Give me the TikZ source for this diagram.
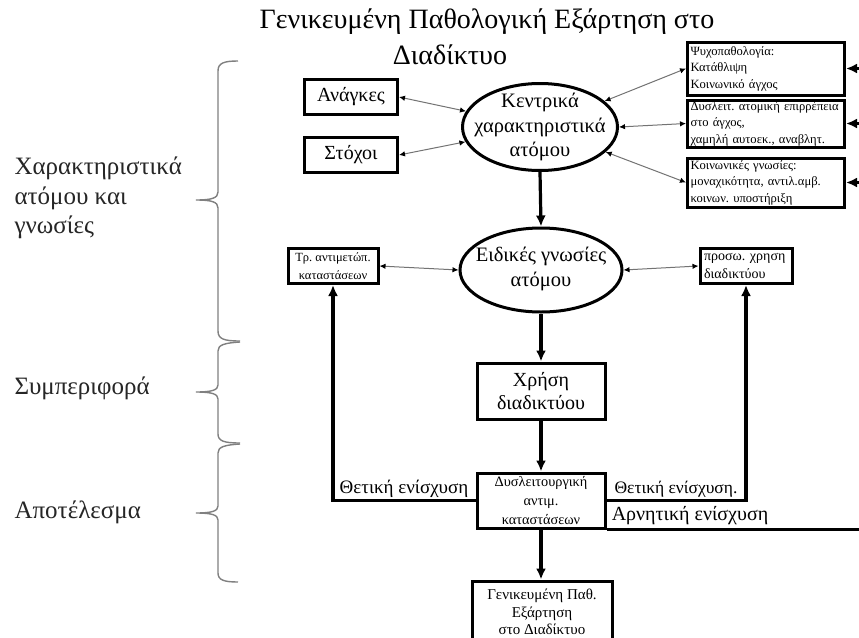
\documentclass[tikz,border=0pt]{standalone}
\usepackage{fontspec}
\setmainfont{Liberation Serif}
\frenchspacing
\usetikzlibrary{shapes.geometric,arrows.meta}
\begin{document}
\begin{tikzpicture}[x=1pt,y=-1pt,
  box/.style={draw,line width=3pt,align=center,inner sep=2pt},
  rbox/.style={draw,line width=3pt,align=left,text width=151pt,inner xsep=3pt,inner ysep=1pt,font=\fontsize{12.6}{16.5}\selectfont\frenchspacing},
  oval/.style={draw,ellipse,line width=3pt,inner sep=0pt},
  ovtext/.style={font=\fontsize{20.5}{24.5}\selectfont,align=center},
  flow/.style={line width=3.2pt,-{Latex[length=11pt,width=10pt]}},
  fline/.style={line width=3.2pt},
  link/.style={draw=black!55,line width=1pt,{Latex[length=6pt,width=5.5pt,color=black]}-{Latex[length=6pt,width=5.5pt,color=black]}},
  side/.style={font=\fontsize{25}{29.5}\selectfont,align=left,anchor=west,text=black!85},
  brc/.style={draw=black!50,line width=1.4pt},
  lbl/.style={font=\fontsize{19}{20}\selectfont,inner sep=0pt}
]
\useasboundingbox (0,0) rectangle (859,637);
\fill[white] (0,0) rectangle (859,637);
\clip (0,0) rectangle (859,637);

% title
\node[font=\fontsize{28}{32}\selectfont] (ti1) at (487,22) {Γενικευμένη Παθολογική Εξάρτηση στο};
\node[font=\fontsize{28}{32}\selectfont] (ti2) at (450,55) {Διαδίκτυο};

% side labels
\node[side] (s1) at (11,198) {Χαρακτηριστικά\\ατόμου και\\γνωσίες};
\node[side] (s2) at (11,388) {Συμπεριφορά};
\node[side] (s3) at (11,512) {Αποτέλεσμα};

% braces
\draw[brc] (238,61) .. controls (224,61) and (218,63) .. (218,71) -- (218,192)
  .. controls (218,198) and (212,200) .. (196,200)
  .. controls (212,200) and (218,202) .. (218,208) -- (218,331)
  .. controls (218,339) and (224,341) .. (240,341);
\draw[brc] (240,342) .. controls (224,343) and (218,345) .. (218,351) -- (218,385)
  .. controls (218,390) and (212,392) .. (196,392)
  .. controls (212,392) and (218,394) .. (218,399) -- (218,434)
  .. controls (218,441) and (224,443) .. (240,443);
\draw[brc] (240,444) .. controls (224,445) and (218,447) .. (218,453) -- (218,506)
  .. controls (218,511) and (212,513) .. (196,513)
  .. controls (212,513) and (218,515) .. (218,520) -- (218,573)
  .. controls (218,580) and (224,582) .. (238,582);

% top row
\node[box,minimum width=93pt,minimum height=35pt,font=\fontsize{20}{24}\selectfont] (an) at (351,97) {Ανάγκες};
\node[box,minimum width=93pt,minimum height=35pt,font=\fontsize{20}{24}\selectfont] (st) at (351,155) {Στόχοι};
\node[oval,minimum width=155pt,minimum height=87pt,
  label={[ovtext]center:Κεντρικά\\χαρακτηριστικά\\ατόμου}] (kc) at (540,127) {};

\node[rbox,minimum height=53pt] (b1) at (766,68.5) {Ψυχοπαθολογία:\\Κατάθλιψη\\Κοινωνικό άγχος};
\node[rbox,minimum height=47pt] (b2) at (766,123.5) {\mbox{Δυσλειτ. ατομική επιρρέπεια}\\στο άγχος,\\\mbox{χαμηλή αυτοεκ., αναβλητ.}};
\node[rbox,minimum height=49pt] (b3) at (766,182.5) {Κοινωνικές γνωσίες:\\\mbox{μοναχικότητα, αντιλ.αμβ.}\\κοινων. υποστήριξη};

% middle row
\node[oval,minimum width=162pt,minimum height=84pt,
  label={[ovtext,yshift=1pt]center:Ειδικές γνωσίες\\ατόμου}] (ei) at (541,270) {};
\node[box,minimum width=90pt,minimum height=35pt,font=\fontsize{12.5}{18}\selectfont\frenchspacing] (tr) at (333,266) {Τρ. αντιμετώπ.\\καταστάσεων};
\node[box,minimum width=92pt,minimum height=35pt,text width=84pt,align=left,inner xsep=4pt,font=\fontsize{14}{18}\selectfont\frenchspacing] (pr) at (746,266) {προσω. χρηση\\διαδικτύου};

\node[box,minimum width=128pt,minimum height=56pt,font=\fontsize{20}{22.5}\selectfont] (ch) at (541,391) {Χρήση\\διαδικτύου};
\node[box,minimum width=128pt,minimum height=55pt,font=\fontsize{14.3}{19}\selectfont] (dy) at (541,500.5) {Δυσλειτουργική\\αντιμ.\\καταστάσεων};
\node[box,minimum width=140pt,minimum height=62pt,font=\fontsize{15}{17.5}\selectfont\frenchspacing] (gp) at (542,612) {Γενικευμένη Παθ.\\Εξάρτηση\\στο Διαδίκτυο};

% links
\draw[link] (an.east) -- (kc);
\draw[link] (st.east) -- (kc);
\draw[link] (kc) -- (b1.west);
\draw[link] (kc.east) -- (b2.west);
\draw[link] (kc) -- (b3.west);
\draw[link] (tr.east) -- (ei.west);
\draw[link] (ei.east) -- (pr.west);

% main flow
\draw[flow] (kc.south) -- (ei.north);
\draw[flow] (ei.south) -- (ch.north);
\draw[flow] (ch.south) -- (dy.north);
\draw[flow] (dy.south) -- (dy.south |- gp.north);

% feedback
\coordinate (ex) at (859,0);
\draw[flow] (dy.west) -| (tr.south);
\draw[flow] (dy.east) -| (pr.south);
\draw[fline] (dy.south east) -- (dy.south east -| ex);
\draw[flow] (b1.east -| ex) -- (b1.east);
\draw[flow] (b2.east -| ex) -- (b2.east);
\draw[flow] (b3.east -| ex) -- (b3.east);

\node[lbl] (t1) at (404,489) {Θετική ενίσχυση};
\node[lbl,font=\fontsize{17.5}{19}\selectfont] (t2) at (676,489) {Θετική ενίσχυση.};
\node[lbl,font=\fontsize{20}{21}\selectfont] (t3) at (690,516) {Αρνητική ενίσχυση};
\end{tikzpicture}
\end{document}
